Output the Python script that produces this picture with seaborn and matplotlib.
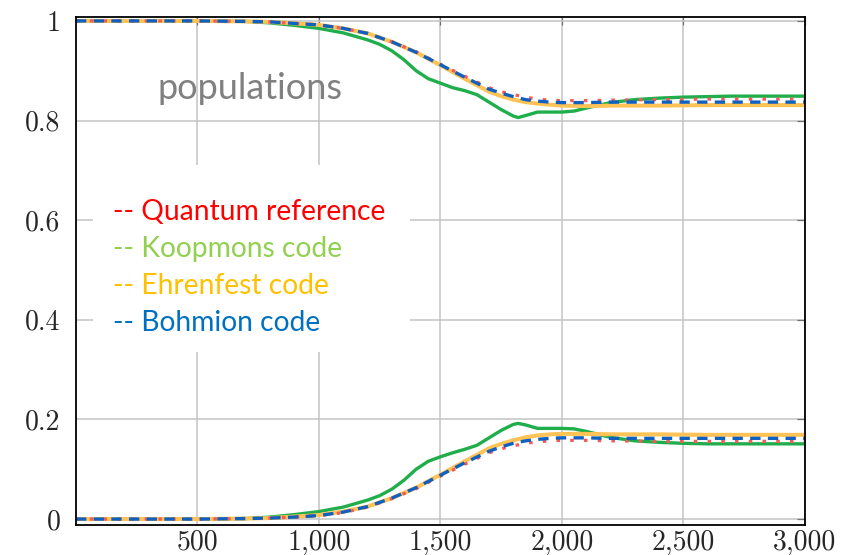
import matplotlib
matplotlib.use("Agg")
import matplotlib.pyplot as plt
from matplotlib.patches import Rectangle
import seaborn as sns
import pandas as pd

# time grids
t_ref = [0, 500, 700, 800, 900, 1000, 1100, 1200, 1300, 1400, 1500, 1600, 1700,
         1750, 1800, 1850, 1900, 1950, 2000, 2100, 2200, 2400, 2600, 2800, 3000]
t_koop = [0, 500, 700, 800, 900, 1000, 1100, 1200, 1250, 1300, 1350, 1400, 1450,
          1500, 1550, 1600, 1650, 1700, 1750, 1800, 1820, 1850, 1900, 1950, 2000,
          2050, 2100, 2200, 2300, 2400, 2500, 2600, 2700, 2800, 3000]

# state populations (upper = initially occupied state, lower = other state)
quantum_upper = [1.0, 1.0, 0.999, 0.998, 0.995, 0.992, 0.985, 0.975, 0.958, 0.938, 0.913,
                 0.889, 0.866, 0.858, 0.852, 0.847, 0.843, 0.841, 0.840, 0.840, 0.841,
                 0.842, 0.843, 0.843, 0.843]
quantum_lower = [0.0, 0.0, 0.001, 0.002, 0.004, 0.007, 0.013, 0.024, 0.041, 0.061, 0.086,
                 0.110, 0.133, 0.141, 0.147, 0.152, 0.155, 0.157, 0.158, 0.158, 0.157,
                 0.156, 0.156, 0.156, 0.156]

koop_upper = [1.0, 1.0, 0.999, 0.996, 0.991, 0.985, 0.976, 0.962, 0.953, 0.940, 0.922,
              0.900, 0.884, 0.875, 0.866, 0.860, 0.852, 0.837, 0.822, 0.809, 0.806,
              0.810, 0.817, 0.817, 0.817, 0.819, 0.825, 0.836, 0.842, 0.845, 0.847,
              0.848, 0.849, 0.849, 0.849]
koop_lower = [0.0, 0.0, 0.001, 0.004, 0.009, 0.015, 0.024, 0.038, 0.047, 0.060, 0.078,
              0.100, 0.116, 0.125, 0.133, 0.140, 0.148, 0.163, 0.178, 0.190, 0.192,
              0.189, 0.182, 0.182, 0.182, 0.181, 0.176, 0.164, 0.157, 0.154, 0.152,
              0.151, 0.151, 0.151, 0.151]

ehren_upper = [1.0, 1.0, 0.999, 0.998, 0.995, 0.992, 0.985, 0.975, 0.958, 0.937, 0.911,
               0.884, 0.858, 0.849, 0.842, 0.837, 0.834, 0.832, 0.830, 0.829, 0.830,
               0.830, 0.831, 0.831, 0.831]
ehren_lower = [0.0, 0.0, 0.001, 0.002, 0.005, 0.008, 0.015, 0.025, 0.042, 0.063, 0.089,
               0.116, 0.142, 0.151, 0.158, 0.164, 0.168, 0.170, 0.171, 0.171, 0.170,
               0.170, 0.169, 0.169, 0.169]

bohm_upper = [1.0, 1.0, 0.999, 0.998, 0.995, 0.992, 0.985, 0.975, 0.958, 0.937, 0.912,
              0.887, 0.863, 0.855, 0.848, 0.842, 0.839, 0.837, 0.836, 0.836, 0.837,
              0.837, 0.837, 0.837, 0.837]
bohm_lower = [0.0, 0.0, 0.001, 0.002, 0.004, 0.007, 0.014, 0.025, 0.042, 0.063, 0.088,
              0.113, 0.136, 0.145, 0.152, 0.157, 0.160, 0.162, 0.163, 0.163, 0.162,
              0.162, 0.162, 0.162, 0.162]

legend_labels = ["-- Quantum reference", "-- Koopmons code", "-- Ehrenfest code", "-- Bohmion code"]
legend_colors = ["#ff0000", "#92d050", "#ffc000", "#0070c0"]

x_ticks = [500, 1000, 1500, 2000, 2500, 3000]
x_ticklabels = ["500", "1,000", "1,500", "2,000", "2,500", "3,000"]
y_ticks = [0, 0.2, 0.4, 0.6, 0.8, 1]
y_ticklabels = ["0", "0.2", "0.4", "0.6", "0.8", "1"]

sns.set_style("white")
plt.rcParams["font.family"] = ["Lato", "DejaVu Sans"]

fig = plt.figure(figsize=(8.49, 5.55), dpi=100)
ax = fig.add_axes([0.0895, 0.054, 0.8585, 0.9155])

# one frame per curve
def frame(t, y):
    return pd.DataFrame({"t": t, "p": y})

styles = [
    # (times, upper, lower, color, lw, linestyle, zorder)
    (t_koop, koop_upper, koop_lower, "#1fae4b", 2.4, "-", 3),
    (t_ref, ehren_upper, ehren_lower, "#ffc255", 2.9, "-", 4),
    (t_ref, quantum_upper, quantum_lower, "#f35a5a", 2.3, (0, (1.1, 3.2)), 5),
    (t_ref, bohm_upper, bohm_lower, "#1060c0", 2.4, (0, (3.1, 2.2)), 6),
]
for t, up, lo, col, lw, ls, z in styles:
    for y in (up, lo):
        sns.lineplot(data=frame(t, y), x="t", y="p", ax=ax, color=col, lw=lw,
                     linestyle=ls, zorder=z, legend=False, estimator=None,
                     solid_capstyle="butt", dash_capstyle="butt")

ax.set_xlim(0, 3000)
ax.set_ylim(-0.012, 1.008)
ax.set_xticks(x_ticks)
ax.set_xticklabels(x_ticklabels)
ax.set_yticks(y_ticks)
ax.set_yticklabels(y_ticklabels)
ax.set_xlabel("")
ax.set_ylabel("")

ax.grid(True, color="#c4c4c4", lw=1.1)
ax.set_axisbelow(True)
ax.tick_params(direction="in", length=6, width=0.9, color="#707070",
               top=True, right=True, labelsize=20)
ax.tick_params(axis="x", pad=3)
ax.tick_params(axis="y", pad=11)
for lab in ax.get_xticklabels() + ax.get_yticklabels():
    lab.set_family("cmr10")
for s in ax.spines.values():
    s.set_color("black")
    s.set_linewidth(1.3)
    s.set_zorder(10)

# white panel behind the legend texts
ax.add_patch(Rectangle((0.024, 0.341), 0.434, 0.368, transform=ax.transAxes,
                       facecolor="white", edgecolor="none", zorder=1))
ys = [0.616, 0.543, 0.470, 0.398]
for lab, col, yy in zip(legend_labels, legend_colors, ys):
    ax.text(0.0508, yy, lab, transform=ax.transAxes, color=col, fontsize=20.3,
            ha="left", va="center", zorder=2)

ax.text(718, 0.865, "populations", color="#808080", fontsize=26,
        ha="center", va="center", zorder=2)

fig.savefig("out.png", dpi=100)
